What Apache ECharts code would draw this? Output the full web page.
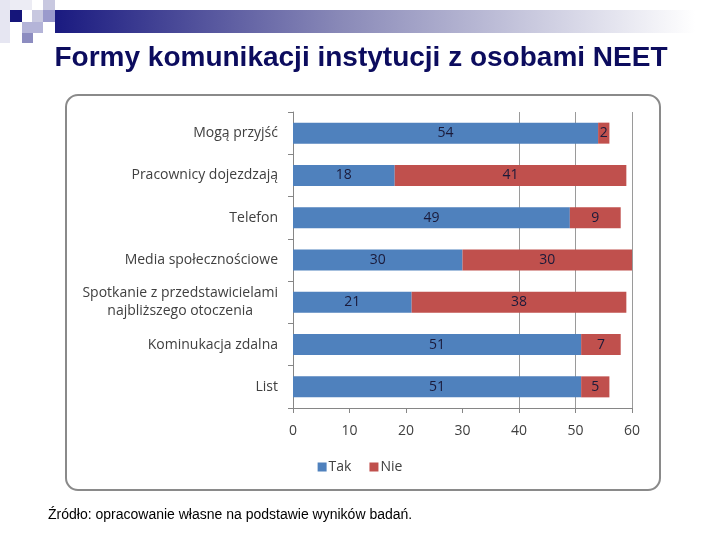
<!DOCTYPE html>
<html><head><meta charset="utf-8">
<script src="https://cdn.jsdelivr.net/npm/echarts@6/dist/echarts.min.js"></script>
<style>html,body{margin:0;padding:0;background:#fff}#c{width:720px;height:540px}</style>
</head><body><div id="c"></div>
<script>
var categories = ['Mogą przyjść','Pracownicy dojezdzają','Telefon','Media społecznościowe','Spotkanie z przedstawicielami\nnajbliższego otoczenia','Kominukacja zdalna','List'];
var takValues = [54,18,49,30,21,51,51];
var nieValues = [2,41,9,30,38,7,5];
var xTicks = [0,10,20,30,40,50,60];
var titleText = 'Formy komunikacji instytucji z osobami NEET';
var sourceText = 'Źródło: opracowanie własne na podstawie wyników badań.';

var chart = echarts.init(document.getElementById('c'), null, {renderer:'canvas'});
var labelFont = '"Open Sans", "Liberation Sans", sans-serif';
chart.setOption({
  animation:false,
  backgroundColor:'#fff',
  graphic:[
    {type:'rect', shape:{x:0,y:0,width:10,height:43}, style:{fill:'#e6e6f2'}},
    {type:'rect', shape:{x:10,y:0,width:22,height:10}, style:{fill:'#ececf4'}},
    {type:'rect', shape:{x:10,y:10,width:12,height:12}, style:{fill:'#15157a'}},
    {type:'rect', shape:{x:32,y:10,width:11,height:12}, style:{fill:'#c8c8e0'}},
    {type:'rect', shape:{x:43,y:0,width:12,height:10}, style:{fill:'#c8c8e0'}},
    {type:'rect', shape:{x:43,y:10,width:12,height:12}, style:{fill:'#9a9acc'}},
    {type:'rect', shape:{x:22,y:22,width:21,height:11}, style:{fill:'#b4b4d8'}},
    {type:'rect', shape:{x:22,y:33,width:11,height:10}, style:{fill:'#8c8cc0'}},
    {type:'rect', shape:{x:55,y:10,width:640,height:23}, style:{fill:{type:'linear',x:0,y:0,x2:1,y2:0,colorStops:[{offset:0,color:'#1a1a80'},{offset:0.45,color:'#8a8ab8'},{offset:1,color:'#ffffff'}]}}},
    {type:'text', x:361, y:58, style:{text:titleText, font:'bold 28px "Liberation Sans", Arial, sans-serif', fill:'#0c0c5e', textAlign:'center', textVerticalAlign:'middle'}},
    {type:'rect', shape:{x:66,y:95,width:594,height:395,r:12}, style:{fill:'none',stroke:'#8a8a8a',lineWidth:2}},
    {type:'text', x:48, y:515, style:{text:sourceText, font:'14px "Liberation Sans", Arial, sans-serif', fill:'#000', textVerticalAlign:'middle'}}
  ],
  legend:{data:['Tak','Nie'], left:'center', top:455, itemWidth:9, itemHeight:9, itemGap:18, icon:'rect',
    textStyle:{fontFamily:labelFont, fontSize:14, color:'#404040', padding:[0,0,0,-3]}},
  grid:{left:293, right:88, top:112, bottom:132},
  xAxis:{type:'value', min:0, max:60, interval:10,
    axisLine:{show:true, lineStyle:{color:'#868686'}},
    axisTick:{show:true, length:5, lineStyle:{color:'#868686'}},
    axisLabel:{margin:16, fontFamily:labelFont, fontSize:14, color:'#404040', formatter:function(v){return xTicks.indexOf(v)>=0?String(v):'';}},
    splitLine:{show:true, lineStyle:{color:['rgba(0,0,0,0)','rgba(0,0,0,0)','rgba(0,0,0,0)','rgba(0,0,0,0)','#9a9a9a','#9a9a9a','#9a9a9a']}}},
  yAxis:{type:'category', data:categories, inverse:true,
    axisLine:{show:true, lineStyle:{color:'#868686'}},
    axisTick:{show:true, length:5, lineStyle:{color:'#868686'}},
    axisLabel:{margin:15, fontFamily:labelFont, fontSize:14, color:'#404040', lineHeight:18,
      formatter:function(v){ if(v.indexOf('\n')>=0){ return v.split('\n').map(function(s){return '{c|'+s+'}';}).join('\n'); } return v; },
      rich:{c:{align:'center', fontFamily:labelFont, fontSize:14, color:'#404040', lineHeight:18}}}},
  series:[
    {name:'Tak', type:'bar', stack:'a', data:takValues, barWidth:21, itemStyle:{color:'#4f81bd'},
      label:{show:true, position:'inside', color:'#1a1a3a', fontFamily:labelFont, fontSize:14}},
    {name:'Nie', type:'bar', stack:'a', data:nieValues, barWidth:21, itemStyle:{color:'#c0504d'},
      label:{show:true, position:'inside', color:'#1a1a3a', fontFamily:labelFont, fontSize:14}}
  ]
});
</script></body></html>
